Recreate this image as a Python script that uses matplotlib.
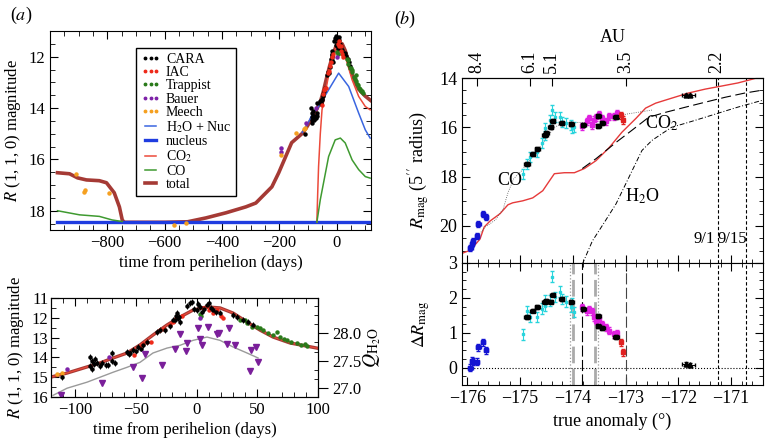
import numpy as np
import matplotlib
matplotlib.use("Agg")
import matplotlib.pyplot as plt
from matplotlib.ticker import MultipleLocator

plt.rcParams['font.family'] = ['Liberation Serif', 'DejaVu Serif']
plt.rcParams['mathtext.fontset'] = 'stix'
plt.rcParams['font.size'] = 12
plt.rcParams['xtick.direction'] = 'in'
plt.rcParams['ytick.direction'] = 'in'

# ---------------- panel (a) data ----------------
cara_t = [-111, -88, -87.5, -86.5, -86, -85, -84, -82.3, -80, -78.2, -75, -72.8, -70, -70, -67,
          -57.6, -55.5, -54.9, -52.2, -50, -48.1, -46, -44, -41.2,
          -33, -30, -26.1, -22, -19.5, -17.8, -16.4, -15.1, -13.7, -17, -14.5,
          -8, -5.5, -3.8, -2, 0, 1.4, 2.8, 4, 6, 8.3, 10, 12, 13.5, 16, 19.3,
          30, 33, 38.2, 42, 46.4]
cara_m = [15.0, 14.0, 14.45, 14.2, 14.6, 14.35, 14.1, 14.3, 14.45, 14.3, 14.4, 14.38, 13.8, 14.2, 14.3,
          13.71, 13.85, 13.8, 13.63, 13.7, 13.46, 13.55, 13.35, 13.21,
          12.7, 12.6, 12.62, 12.4, 12.1, 12.11, 11.77, 12.03, 12.2, 11.9, 11.95,
          11.4, 11.27, 11.2, 11.55, 11.6, 11.3, 11.45, 11.7, 11.55, 11.35, 11.25, 11.5, 11.6, 11.7, 11.75,
          11.85, 11.96, 12.1, 12.2, 12.36]
iac_t = [-52, -46.7, -44, -41, -38, -30, -27, -22, -19.5, -17, -12, 5, 8.5, 10, 13.5, 16.5, 20, 22]
iac_m = [13.9, 13.47, 13.3, 13.2, 13.2, 12.62, 12.55, 12.36, 12.2, 12.0, 11.9, 11.5, 11.4, 11.6, 11.76, 11.6, 11.9, 12.0]
trap_t = [2.8, 3.5, 36, 40, 41.3, 45.4, 49.5, 52.2, 55, 59.1, 63.2, 66, 68.7, 72, 74.2, 78, 82.4, 86, 89.3, 90.7]
trap_m = [11.8, 11.9, 12.1, 12.11, 12.28, 12.44, 12.44, 12.53, 12.6, 12.78, 12.87, 12.7, 12.95, 13.05, 13.12,
          13.2, 13.26, 13.35, 13.34, 13.42]
bauer_t = [-195, -195, -107, -72, 3]
bauer_m = [15.55, 15.7, 14.6, 14.0, 12.0]
meech_t = [-908, -880, -877, -793, -567, -525, -195, -143, -115, -111]
meech_m = [16.56, 17.26, 17.18, 17.3, 18.55, 18.48, 15.82, 14.97, 14.82, 14.77]

total_t = [-974, -932, -904, -873, -828, -803, -776, -758, -748, -741, -600, -520, -456, -386, -317, -282,
           -226, -202, -157, -120, -106.8, -90.3, -79.6, -68.9, -57.4, -46.7, -36, -24.4, -13.7, -3, 8.5,
           19.3, 30, 41.5, 52.2, 62.9, 76.9, 99.2, 118]
total_m = [16.52, 16.56, 16.72, 16.8, 16.83, 16.91, 17.3, 17.85, 18.36, 18.45, 18.45, 18.43, 18.28, 18.08,
           17.85, 17.7, 17.07, 16.52, 15.35, 14.99, 14.79, 14.48, 14.28, 14.03, 13.78, 13.37, 12.87, 12.36,
           11.96, 11.61, 11.45, 11.5, 11.76, 12.21, 12.62, 12.97, 13.27, 13.53, 13.7]
h2o_t = [-120, -100, -86, -63, -28, 7, 42, 77, 100, 117]
h2o_m = [14.95, 14.6, 14.26, 13.94, 13.29, 12.64, 13.16, 14.2, 14.85, 15.17]
nuc_t = [-975, 118]
nuc_m = [18.45, 18.45]
co2_t = [-69, -66, -63, -57, -51, -33, -17, 0, 13, 30, 54, 77, 100, 117]
co2_m = [18.45, 17.3, 16.28, 15.0, 14.07, 13.02, 12.05, 11.6, 11.6, 11.99, 12.9, 13.55, 13.94, 14.07]
co_t1 = [-974, -897, -828, -783, -748]
co_m1 = [18.0, 18.16, 18.22, 18.36, 18.42]
co_t2 = [-69, -57, -28, -5, 13, 30, 54, 77, 100, 117]
co_m2 = [18.45, 17.57, 15.89, 15.24, 15.17, 15.36, 16.02, 16.4, 16.67, 16.73]

q_t = [-118.4, -106.8, -90.3, -79.6, -68.9, -57.4, -46.7, -36, -24.4, -13.7, -3, 8.5, 19.3, 30, 41.5, 50.6]
q_v = [26.87, 27.0, 27.11, 27.2, 27.29, 27.38, 27.47, 27.64, 27.73, 27.78, 27.87, 27.93, 27.87, 27.75, 27.64, 27.55]
qobs_t = [-112, -78.2, -52.2, -45.3, -42.5, -28.8, -17.8, -13.7, -8.8, -8.2, 1.4, 2.8, 4.4, 9.6, 16.5,
          18.7, 26.9, 24.8, 31.6, 44.8, 44.0, 48.9, 50.8]
qobs_v = [26.87, 27.10, 27.39, 27.18, 27.62, 27.42, 27.72, 27.98, 27.68, 27.82, 28.09, 27.89, 27.78, 28.11,
          27.99, 28.0, 28.1, 27.81, 27.78, 27.7, 27.31, 27.75, 27.48]

# ---------------- panel (b) data ----------------
red_x = [-176.09, -175.94, -175.76, -175.68, -175.57, -175.38, -175.23, -175.14, -174.95, -174.76, -174.57,
         -174.44, -174.35, -174.16, -173.97, -173.78, -173.56, -173.31, -173.07, -172.8, -172.62, -172.43,
         -172.13, -171.81, -171.49, -171.19, -170.87, -170.44]
red_y = [21.1, 20.98, 20.53, 20.04, 19.8, 19.5, 19.14, 19.06, 18.98, 18.86, 18.57, 18.16, 17.88, 17.84,
         17.84, 17.67, 17.35, 16.82, 16.2, 15.63, 15.22, 15.02, 14.82, 14.61, 14.45, 14.33, 14.2, 13.96]
co2b_x = [-173.82, -173.56, -173.18, -172.88, -172.56, -172.24, -171.86, -171.49, -171.11, -170.74, -170.4]
co2b_y = [17.67, 17.27, 16.61, 16.12, 15.59, 15.39, 15.18, 14.98, 14.78, 14.61, 14.49]
h2ob_x = [-173.82, -173.63, -173.41, -173.18, -172.94, -172.69, -172.5, -172.13, -171.81, -171.49, -171.19,
          -170.87, -170.4]
h2ob_y = [21.55, 20.61, 19.88, 19.1, 18.04, 16.94, 16.53, 16.0, 15.8, 15.59, 15.39, 15.18, 14.9]
cob_x = [-175.85, -175.66, -175.47, -175.32, -175.23, -175.12, -174.97, -174.78, -174.53, -174.35, -174.16,
         -173.69, -173.31, -173.0, -172.5]
cob_y = [20.53, 20.04, 19.76, 19.31, 18.65, 18.08, 17.76, 17.22, 16.53, 16.0, 15.8, 15.8, 15.71, 15.47, 15.3]

blue_x = [-175.94, -175.91, -175.89, -175.81, -175.79, -175.7, -175.64]
blue_y = [20.9, 20.73, 20.61, 20.41, 19.92, 19.51, 19.63]
blue_d = [0.0, 0.2, 0.17, 0.17, 0.58, 0.72, 0.49]
cyan_x = [-174.95, -174.87, -174.82, -174.68, -174.59, -174.53, -174.53, -174.44, -174.4, -174.33, -174.25,
          -174.2, -174.12, -174.03, -173.97, -174.01]
cyan_y = [17.88, 17.47, 17.22, 17.02, 16.65, 16.33, 16.04, 15.71, 15.31, 15.59, 15.59, 15.8, 15.84, 15.92,
          16.0, 16.04]
cyan_d = [0.95, 1.63, 1.45, 1.45, 1.69, 1.78, 1.92, 1.92, 2.61, 2.03, 2.18, 1.97, 1.89, 1.74, 1.6, 1.85]
blk_x = [-174.87, -174.76, -174.67, -174.53, -174.5, -174.42, -174.38, -174.21, -174.03, -173.8, -173.52,
         -173.52, -173.44, -173.18]
blk_y = [17.47, 17.1, 16.86, 16.33, 16.24, 16.0, 15.76, 15.84, 15.88, 15.92, 15.55, 15.96, 15.84, 15.59]
blk_d = [1.45, 1.63, 1.74, 1.89, 1.92, 1.89, 2.09, 1.97, 1.89, 1.68, 1.48, 1.19, 1.13, 0.88]
mag_x = [-173.82, -173.74, -173.69, -173.63, -173.59, -173.56, -173.5, -173.44, -173.37, -173.31, -173.22,
         -173.16]
mag_y = [15.96, 15.76, 15.63, 15.92, 15.71, 15.59, 15.47, 15.63, 15.76, 15.55, 15.55, 15.43]
mag_d = [1.73, 1.62, 1.68, 1.62, 1.45, 1.34, 1.4, 1.25, 1.16, 1.05, 0.96, 0.99]
redp_x = [-173.09, -173.05]
redp_y = [15.51, 15.71]
redp_d = [0.73, 0.44]
tri_x = [-171.85, -171.77]
tri_y = [14.69, 14.69]
tri_d = [0.1, 0.07]

au_pos = [-175.81, -174.82, -174.40, -172.99, -171.28]
au_lab = ['8.4', '6.1', '5.1', '3.5', '2.2']
date_pos = [-171.25, -170.72]
date_lab = ['9/1', '9/15']
event_x = [-174.05, -174.0, -173.83, -173.58, -173.52, -172.99]

FB = 13  # panel (b) font size

fig = plt.figure(figsize=(7.65, 4.4), dpi=100)

# ---------------- (a) top ----------------
ax1 = fig.add_axes([0.0654, 0.4773, 0.4196, 0.4522])
ax1.plot(total_t, total_m, color='#a53a35', lw=2.6, label='total', zorder=2)
ax1.plot(nuc_t, nuc_m, color='#1f3ce0', lw=2.4, label='nucleus', zorder=3)
ax1.plot(h2o_t, h2o_m, color='#3a66e0', lw=1.1, label='H$_2$O + Nuc', zorder=3)
ax1.plot(co2_t, co2_m, color='#ec4a3a', lw=1.1, label='CO$_2$', zorder=3)
ax1.plot(co_t1, co_m1, color='#3f9a30', lw=1.1, label='CO', zorder=3)
ax1.plot(co_t2, co_m2, color='#3f9a30', lw=1.1, zorder=3)
kw = dict(ls='none', marker='o', ms=2.2, zorder=4)
ax1.plot(cara_t, cara_m, color='black', label='CARA', **kw)
ax1.plot(iac_t, iac_m, color='#ee2a1a', label='IAC', **kw)
ax1.plot(trap_t, trap_m, color='#2a7a1a', label='Trappist', **kw)
ax1.plot(bauer_t, bauer_m, color='#7e22a8', label='Bauer', **kw)
ax1.plot(meech_t, meech_m, color='#f5a020', label='Meech', **kw)
ax1.set_xlim(-1000, 120)
ax1.set_ylim(18.75, 11)
ax1.set_xticks([-800, -600, -400, -200, 0])
ax1.xaxis.set_minor_locator(MultipleLocator(50))
ax1.set_yticks([12, 14, 16, 18])
ax1.yaxis.set_minor_locator(MultipleLocator(0.5))
ax1.tick_params(which='both', top=True, right=True)
ax1.tick_params(which='major', length=6)
ax1.tick_params(which='minor', length=3.5)
ax1.set_xlabel('time from perihelion (days)', labelpad=3)
ax1.set_ylabel('$R$ (1, 1, 0) magnitude')
h, l = ax1.get_legend_handles_labels()
order = ['CARA', 'IAC', 'Trappist', 'Bauer', 'Meech', 'H$_2$O + Nuc', 'nucleus', 'CO$_2$', 'CO', 'total']
hs = [h[l.index(o)] for o in order]
ax1.legend(hs, order, loc='upper left', bbox_to_anchor=(0.268, 0.915), fontsize=10, numpoints=3,
           markerscale=0.8, handlelength=1.4, handletextpad=0.4, labelspacing=0.02, fancybox=False,
           edgecolor='black', framealpha=1, borderpad=0.35, borderaxespad=0)
fig.text(0.013, 0.955, '($a$)', fontsize=13)

# ---------------- (a) bottom ----------------
ax2 = fig.add_axes([0.0667, 0.0977, 0.349, 0.225])
ax2.plot(total_t, total_m, color='#a53a35', lw=2.4, zorder=2)
ax2.plot(total_t, total_m, color='#ec4a3a', lw=0.8, zorder=2)
ax2.errorbar(cara_t, cara_m, yerr=0.15, fmt='o', color='black', ms=2.2, elinewidth=0.7, capsize=0, zorder=4)
ax2.plot(iac_t, iac_m, color='#ee2a1a', **kw)
ax2.plot(trap_t, trap_m, color='#2a7a1a', **kw)
ax2.plot(bauer_t, bauer_m, color='#7e22a8', **kw)
ax2.plot(meech_t, meech_m, color='#f5a020', **kw)
ax2.set_xlim(-120, 100)
ax2.set_ylim(16, 11)
ax2.set_xticks([-100, -50, 0, 50, 100])
ax2.xaxis.set_minor_locator(MultipleLocator(10))
ax2.set_yticks([11, 12, 13, 14, 15, 16])
ax2.yaxis.set_minor_locator(MultipleLocator(0.5))
ax2.tick_params(which='both', top=True, right=True)
ax2.tick_params(which='major', length=6)
ax2.tick_params(which='minor', length=3.5)
ax2.tick_params(axis='y', pad=2)
ax2.set_xlabel('time from perihelion (days)', labelpad=3)
ax2.set_ylabel('$R$ (1, 1, 0) magnitude')
ax2q = ax2.twinx()
ax2q.plot(q_t, q_v, color='#9a9a9a', lw=1.0)
ax2q.plot(qobs_t, qobs_v, ls='none', marker='v', ms=4, color='#7a1f9a')
ax2q.set_ylim(26.84, 28.64)
ax2q.set_yticks([27.0, 27.5, 28.0])
ax2q.yaxis.set_minor_locator(MultipleLocator(0.5 / 3))
ax2q.tick_params(axis='y', which='major', direction='out', length=7)
ax2q.tick_params(axis='y', which='minor', direction='in', length=3)
ax2q.set_yticklabels(['27.0', '27.5', '28.0'])
ax2q.set_ylabel('$Q_{\\rm H_2O}$', fontsize=14, labelpad=0)

# ---------------- (b) upper ----------------
ax3 = fig.add_axes([0.604, 0.4023, 0.393, 0.4204])
ax3.plot(red_x, red_y, color='#e63a3a', lw=1.0)
ax3.plot(co2b_x, co2b_y, color='black', lw=0.8, dashes=(9, 4))
ax3.plot(h2ob_x, h2ob_y, color='black', lw=0.7, dashes=(5, 2, 1, 2))
ax3.plot(cob_x, cob_y, color='#555555', lw=0.6, ls=':')
ekw = dict(fmt='s', ms=3.5, elinewidth=0.8, capsize=1.5, zorder=4)
ax3.errorbar(blue_x, blue_y, yerr=0.12, xerr=0.04, color='#1414d2', **ekw)
ax3.errorbar(cyan_x, cyan_y, yerr=0.2, color='#28d4dc', fmt='s', ms=2, elinewidth=0.8, capsize=1.5, zorder=3)
ax3.errorbar(mag_x, mag_y, yerr=0.15, color='#e020e0', fmt='s', ms=2.5, elinewidth=0.8, capsize=1.5, zorder=3)
ax3.errorbar(redp_x, redp_y, yerr=0.15, color='#e02020', fmt='s', ms=2.5, elinewidth=0.8, capsize=1.5, zorder=4)
ax3.errorbar(blk_x, blk_y, yerr=0.08, xerr=0.05, color='black', **ekw)
ax3.errorbar(tri_x, tri_y, yerr=0.06, xerr=0.08, color='black', fmt='^', ms=3.5, elinewidth=0.8,
             capsize=1.5, zorder=4)
for xv in date_pos:
    ax3.axvline(xv, color='black', lw=0.8, dashes=(3, 2))
ax3.set_xlim(-176.1, -170.4)
ax3.set_ylim(21.5, 14)
ax3.set_yticks([14, 16, 18, 20])
ax3.yaxis.set_minor_locator(MultipleLocator(0.5))
ax3.xaxis.set_minor_locator(MultipleLocator(0.2))
ax3.set_xticks([-176, -175, -174, -173, -172, -171])
ax3.tick_params(which='both', right=True, bottom=True, labelbottom=False, labelsize=FB)
ax3.tick_params(which='major', length=6)
ax3.tick_params(which='minor', length=3)
ax3.set_ylabel("$R_{\\rm mag}$ (5$''$ radius)", fontsize=FB)
ax3.text(-175.19, 18.15, 'CO', ha='center', va='center', fontsize=FB)
ax3.text(-172.32, 15.84, 'CO$_2$', ha='center', va='center', fontsize=FB)
ax3.text(-172.69, 18.78, 'H$_2$O', ha='center', va='center', fontsize=FB)
ax3.text(-171.3, 20.85, date_lab[0], ha='right', va='bottom', fontsize=12)
ax3.text(-170.98, 20.85, date_lab[1], ha='center', va='bottom', fontsize=12)
ax3t = ax3.secondary_xaxis('top')
ax3t.set_xticks(au_pos)
ax3t.set_xticklabels(au_lab, rotation=90)
ax3t.tick_params(direction='in', length=6, labelsize=FB)
ax3.xaxis.set_tick_params(which='both', top=False)
ax3t.set_xlabel('AU', labelpad=6, fontsize=FB)
fig.text(0.515, 0.945, '($b$)', fontsize=13)

# ---------------- (b) lower ----------------
ax4 = fig.add_axes([0.604, 0.125, 0.393, 0.2773])
ax4.axhline(0, color='black', lw=0.8, ls=':')
ev_styles = [dict(color='#999999', lw=0.9, ls=':'), dict(color='#aaaaaa', lw=2.0, dashes=(6, 2)),
             dict(color='black', lw=0.8, dashes=(10, 3)), dict(color='#aaaaaa', lw=2.0, dashes=(6, 2)),
             dict(color='#999999', lw=0.9, ls=':'), dict(color='#444444', lw=0.8, dashes=(10, 3))]
for xv, st in zip(event_x, ev_styles):
    ax4.axvline(xv, **st)
for xv in date_pos:
    ax4.axvline(xv, color='black', lw=0.8, dashes=(3, 2))
ax4.errorbar(blue_x, blue_d, yerr=0.1, xerr=0.04, color='#1414d2', **ekw)
ax4.errorbar(cyan_x, cyan_d, yerr=0.15, color='#28d4dc', fmt='s', ms=2, elinewidth=0.8, capsize=1.5, zorder=3)
ax4.errorbar(mag_x, mag_d, yerr=0.1, color='#e020e0', fmt='s', ms=2.5, elinewidth=0.8, capsize=1.5, zorder=3)
ax4.errorbar(redp_x, redp_d, yerr=0.1, color='#e02020', fmt='s', ms=2.5, elinewidth=0.8, capsize=1.5, zorder=4)
ax4.errorbar(blk_x, blk_d, yerr=0.05, xerr=0.05, color='black', **ekw)
ax4.errorbar(tri_x, tri_d, yerr=0.06, xerr=0.08, color='black', fmt='^', ms=3.5, elinewidth=0.8,
             capsize=1.5, zorder=4)
ax4.set_xlim(-176.1, -170.4)
ax4.set_ylim(-0.5, 3)
ax4.set_yticks([0, 1, 2, 3])
ax4.yaxis.set_minor_locator(MultipleLocator(0.25))
ax4.set_xticks([-176, -175, -174, -173, -172, -171])
ax4.xaxis.set_minor_locator(MultipleLocator(0.2))
ax4.tick_params(which='both', top=True, right=True, labelsize=FB)
ax4.tick_params(which='major', length=6)
ax4.tick_params(which='minor', length=3)
ax4.set_xlabel('true anomaly (°)', fontsize=FB)
ax4.set_ylabel('$\\Delta R_{\\rm mag}$', fontsize=FB)
ax4.yaxis.set_label_coords(-0.1, 0.5)
ax3.yaxis.set_label_coords(-0.1, 0.5)

fig.savefig('out.png', dpi=100)
